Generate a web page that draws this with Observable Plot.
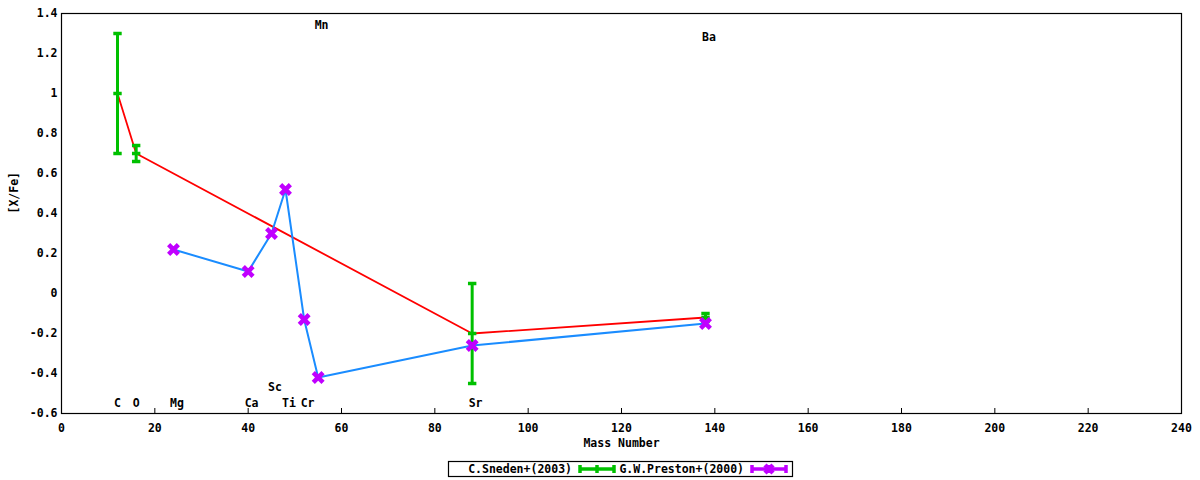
<!DOCTYPE html>
<html>
<head>
<meta charset="utf-8">
<script src="https://cdn.jsdelivr.net/npm/d3@7"></script>
<script src="https://cdn.jsdelivr.net/npm/@observablehq/plot@0.6"></script>
<style>
  html, body { margin: 0; padding: 0; background: #fff; }
  #chart svg { display: block; }
  #legend { display: block; }
</style>
</head>
<body>
<div id="chart"></div>
<svg id="legend" width="1200" height="28" font-family="DejaVu Sans Mono" font-size="11.5" font-weight="bold"></svg>
<script>
// ---- data ----
const snedenMass = [12, 16, 88, 138];
const snedenVal  = [1.0, 0.7, -0.2, -0.12];
const snedenErr  = [0.3, 0.04, 0.25, 0.02];

const prestonMass = [24, 40, 45, 48, 52, 55, 88, 138];
const prestonVal  = [0.22, 0.11, 0.30, 0.52, -0.13, -0.42, -0.26, -0.15];

const elements  = ["C", "O", "Mg", "Ca", "Sc", "Ti", "Cr", "Mn", "Sr", "Ba"];
const elemMass  = [12, 16, 24, 40, 45, 48, 52, 55, 88, 138];
const elemY     = [-0.55, -0.55, -0.55, -0.55, -0.47, -0.55, -0.55, 1.34, -0.55, 1.28];

const xTicks = [0, 20, 40, 60, 80, 100, 120, 140, 160, 180, 200, 220, 240];
const yTicks = [-0.6, -0.4, -0.2, 0, 0.2, 0.4, 0.6, 0.8, 1, 1.2, 1.4];
const yTickLabels = ["-0.6", "-0.4", "-0.2", "0", "0.2", "0.4", "0.6", "0.8", "1", "1.2", "1.4"];

const sneden = snedenMass.map((m, i) => ({mass: m, val: snedenVal[i], err: snedenErr[i]}));
const preston = prestonMass.map((m, i) => ({mass: m, val: prestonVal[i]}));
const labels = elements.map((e, i) => ({name: e, mass: elemMass[i], y: elemY[i]}));

const GREEN = "#00c000", RED = "#ff0000", BLUE = "#1a8cff", MAGENTA = "#c000ff";

const hbar = {
  draw(ctx, size) {
    const w = Math.sqrt(size / Math.PI);
    ctx.moveTo(-w, 0); ctx.lineTo(w, 0);
  }
};

const plotHeight = 452, mTop = 13, mBottom = 39;
const chart = Plot.plot({
  width: 1200,
  height: plotHeight,
  marginLeft: 61,
  marginRight: 19,
  marginTop: mTop,
  marginBottom: mBottom,
  style: {fontFamily: "DejaVu Sans Mono", fontSize: "11.5px", fontWeight: "bold", color: "#000", background: "#fff"},
  x: {domain: [0, 240]},
  y: {domain: [-0.6, 1.4]},
  marks: [
    Plot.frame({stroke: "#000", strokeWidth: 1.2}),
    Plot.axisX(xTicks, {tickSize: 0, tickPadding: 10, label: null, tickFormat: d => String(d)}),
    Plot.ruleX(xTicks.slice(1, -1), {insetTop: plotHeight - mTop - mBottom - 5, stroke: "#000"}),
    Plot.axisY(yTicks, {tickSize: 0, tickPadding: 4, label: null, tickFormat: (d, i) => yTickLabels[i]}),
    Plot.text(["Mass Number"], {frameAnchor: "bottom", dy: 33}),
    Plot.text(["[X/Fe]"], {frameAnchor: "left", dx: -47, rotate: -90}),
    // element labels
    Plot.text(labels, {x: "mass", y: "y", text: "name", textAnchor: "start", dx: -3.5}),
    // Sneden
    Plot.line(sneden, {x: "mass", y: "val", stroke: RED, strokeWidth: 1.8}),
    Plot.ruleX(sneden, {x: "mass", y1: d => d.val - d.err, y2: d => d.val + d.err, stroke: GREEN, strokeWidth: 3}),
    Plot.dot(sneden, {x: "mass", y: d => d.val - d.err, symbol: hbar, r: 4.2, stroke: GREEN, strokeWidth: 3.5}),
    Plot.dot(sneden, {x: "mass", y: d => d.val + d.err, symbol: hbar, r: 4.2, stroke: GREEN, strokeWidth: 3.5}),
    Plot.dot(sneden, {x: "mass", y: "val", symbol: hbar, r: 4.2, stroke: GREEN, strokeWidth: 3.5}),
    // Preston
    Plot.line(preston, {x: "mass", y: "val", stroke: BLUE, strokeWidth: 2}),
    Plot.dot(preston, {x: "mass", y: "val", symbol: "times", r: 4.5, stroke: MAGENTA, strokeWidth: 4.5})
  ]
});
document.getElementById("chart").appendChild(chart);

// legend
const lg = d3.select("#legend");
lg.append("rect").attr("x", 448.5).attr("y", 9.5).attr("width", 344).attr("height", 15)
  .attr("fill", "none").attr("stroke", "#000").attr("stroke-width", 1.2);
const cy = 17;
lg.append("text").attr("x", 572).attr("y", cy).attr("dy", "0.35em").attr("text-anchor", "end").text("C.Sneden+(2003)");
lg.append("text").attr("x", 744).attr("y", cy).attr("dy", "0.35em").attr("text-anchor", "end").text("G.W.Preston+(2000)");
function sample(x0, x1, color) {
  lg.append("line").attr("x1", x0).attr("x2", x1).attr("y1", cy).attr("y2", cy).attr("stroke", color).attr("stroke-width", 3.5);
  for (const x of [x0, (x0 + x1) / 2, x1]) {
    lg.append("line").attr("x1", x).attr("x2", x).attr("y1", cy - 4).attr("y2", cy + 4).attr("stroke", color).attr("stroke-width", 3.5);
  }
}
sample(580, 614, GREEN);
sample(752, 786, MAGENTA);
const mx = 769, s = 4;
lg.append("path").attr("d", `M${mx - s},${cy - s}L${mx + s},${cy + s}M${mx - s},${cy + s}L${mx + s},${cy - s}`)
  .attr("stroke", MAGENTA).attr("stroke-width", 4.5).attr("fill", "none");
</script>
</body>
</html>
